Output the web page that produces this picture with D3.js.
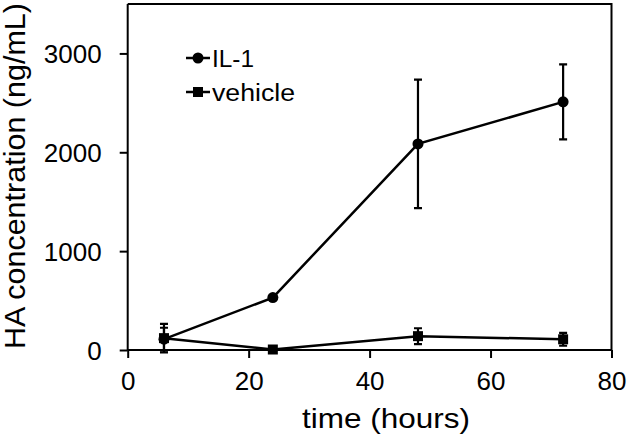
<!DOCTYPE html>
<html><head><meta charset="utf-8">
<script src="https://cdn.jsdelivr.net/npm/d3@7"></script>
<style>body{margin:0;background:#fff}svg{display:block}text{font-family:"Liberation Sans",Arial,sans-serif;fill:#000}</style>
</head><body><svg id="c" width="628" height="443"></svg>
<script>
const times = [6, 24, 48, 72];
const il1Mean = [110, 530, 2085, 2510];
const il1Err = [115, 20, 650, 380];
const vehMean = [120, 5, 140, 108];
const vehErr = [145, 5, 80, 65];
const xTicks = [0, 20, 40, 60, 80];
const yTicks = [0, 1000, 2000, 3000];
const seriesNames = ["IL-1", "vehicle"];

const svg = d3.select("#c");
const L = 127.7, R = 611.5, T = 4, B = 350;
const x = d3.scaleLinear().domain([0, 80]).range([L, R]);
const y = d3.scaleLinear().domain([0, 3500]).range([B, T]);

// frame (top, right)
svg.append("path").attr("d", `M${L},${T}H${R}V${B}`).attr("fill","none").attr("stroke","#000").attr("stroke-width",2);

const xAxis = svg.append("g").attr("transform", `translate(0,${B})`)
  .call(d3.axisBottom(x).tickValues(xTicks).tickSize(8).tickPadding(14).tickFormat(d3.format("d")));
const yAxis = svg.append("g").attr("transform", `translate(${L},0)`)
  .call(d3.axisLeft(y).tickValues(yTicks).tickSize(8).tickPadding(18).tickFormat(d3.format("d")));
[xAxis, yAxis].forEach(g => {
  g.attr("font-size", null).attr("font-family", null);
  g.select(".domain").attr("stroke-width", 2).attr("d", g === xAxis ? `M${L},0H${R}` : `M0,${B}V${T}`);
  g.selectAll(".tick line").attr("stroke-width", 2);
  g.selectAll("text").style("font-size", "26px");
});
xAxis.selectAll("text").attr("dy", "0.71em");
yAxis.selectAll("text").attr("dy", "0.36em");

// titles
svg.append("text").attr("x", 386).attr("y", 428).attr("text-anchor", "middle")
  .style("font-size", "28px").attr("textLength", 168).attr("lengthAdjust", "spacingAndGlyphs").text("time (hours)");
svg.append("text").attr("transform", "translate(25,176) rotate(-90)").attr("text-anchor", "middle")
  .style("font-size", "29px").attr("textLength", 346).attr("lengthAdjust", "spacingAndGlyphs").text("HA concentration (ng/mL)");

const line = d3.line().x(d => x(d[0])).y(d => y(d[1]));
function drawSeries(means, errs, shape) {
  const pts = times.map((t, i) => [t, means[i], errs[i]]);
  const g = svg.append("g");
  g.append("path").attr("d", line(pts)).attr("fill", "none").attr("stroke", "#000").attr("stroke-width", 2.5);
  pts.forEach(p => {
    const cx = x(p[0]), y1 = y(p[1] + p[2]), y0 = y(p[1] - p[2]);
    g.append("path").attr("d", `M${cx},${y0}V${y1}M${cx-4},${y1}H${cx+4}M${cx-4},${y0}H${cx+4}`)
      .attr("stroke", "#000").attr("stroke-width", 2.2).attr("fill", "none");
    if (shape === "circle") g.append("circle").attr("cx", cx).attr("cy", y(p[1])).attr("r", 5.5);
    else g.append("rect").attr("x", cx - 5).attr("y", y(p[1]) - 5).attr("width", 10).attr("height", 10);
  });
}
drawSeries(vehMean, vehErr, "square");
drawSeries(il1Mean, il1Err, "circle");

// legend
const leg = svg.append("g");
[[58, "circle", 42], [92, "square", 83]].forEach((r, i) => {
  leg.append("line").attr("x1", 186).attr("x2", 210).attr("y1", r[0]).attr("y2", r[0]).attr("stroke", "#000").attr("stroke-width", 2.5);
  if (r[1] === "circle") leg.append("circle").attr("cx", 198).attr("cy", r[0]).attr("r", 5.5);
  else leg.append("rect").attr("x", 193).attr("y", r[0] - 5).attr("width", 10).attr("height", 10);
  leg.append("text").attr("x", 212).attr("y", r[0] + 8.5).style("font-size", "23px")
    .attr("textLength", r[2]).attr("lengthAdjust", "spacingAndGlyphs").text(seriesNames[i]);
});
</script></body></html>
